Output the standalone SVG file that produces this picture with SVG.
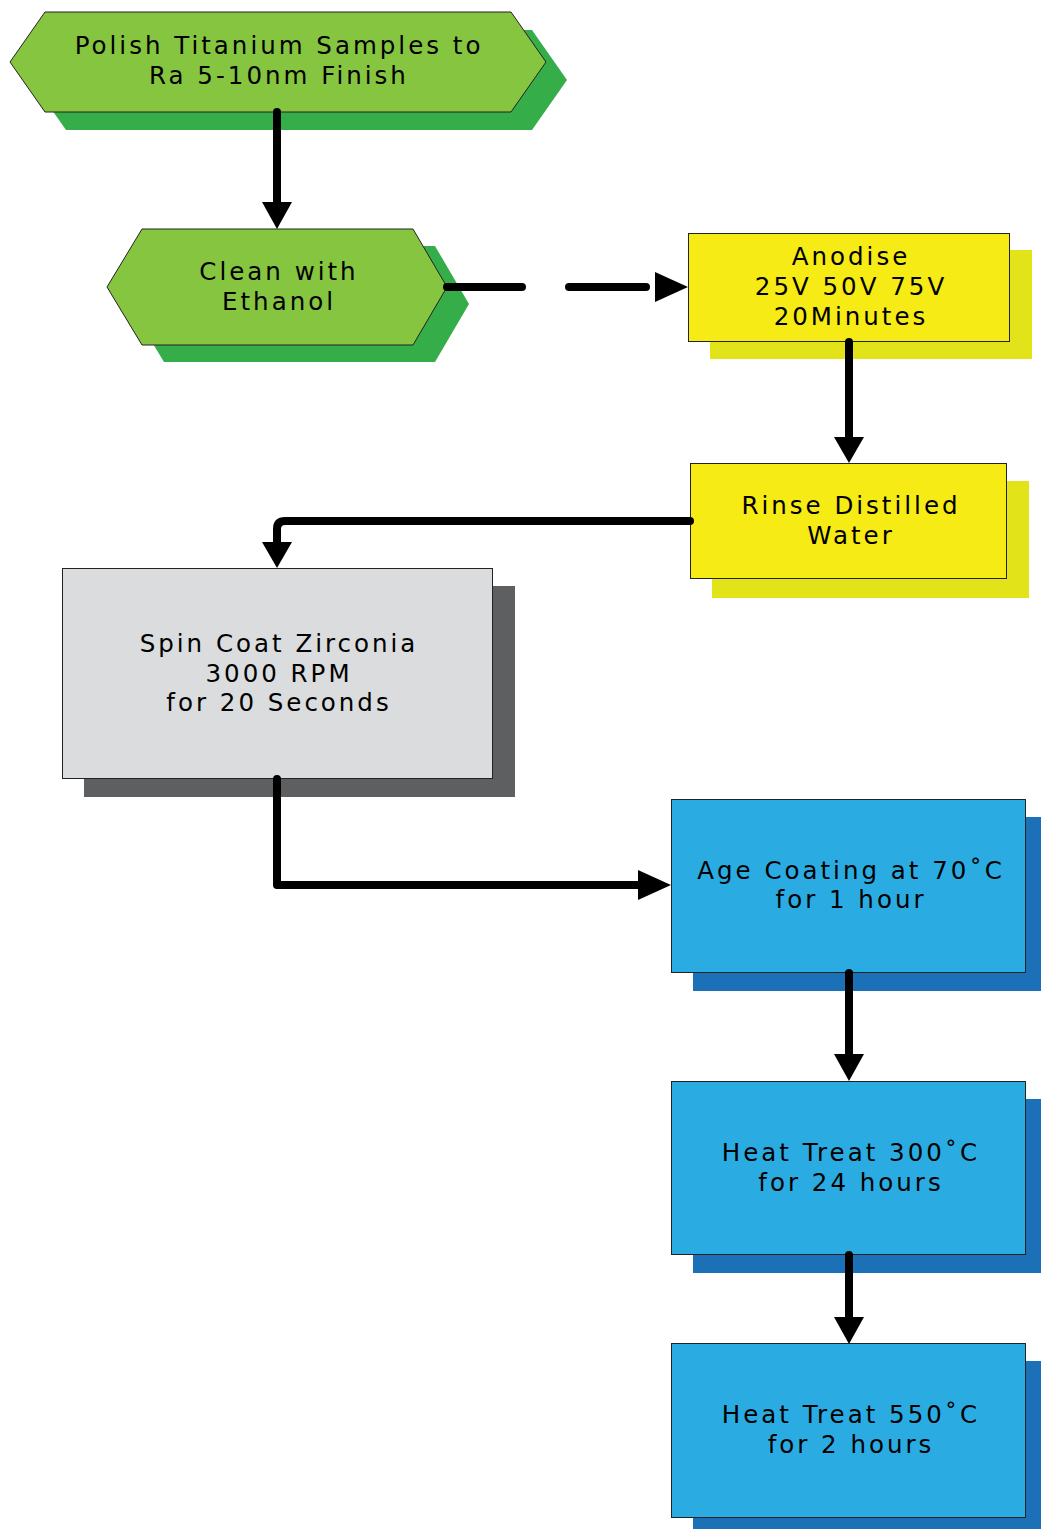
<svg xmlns="http://www.w3.org/2000/svg" width="1041" height="1529" viewBox="0 0 1041 1529">
  <style>
    .lbl { font-family: "DejaVu Sans", Verdana, sans-serif; font-size: 24.5px; letter-spacing: 3px; fill: #000; text-anchor: middle; }
    .edge { stroke: #000; stroke-width: 8; fill: none; stroke-linecap: round; stroke-linejoin: round; }
    .head { fill: #000; }
    .outline { stroke: #222; stroke-width: 1; }
    .green { fill: #86c540; }
    .green-sh { fill: #35ae4a; }
    .yellow { fill: #f6eb14; }
    .yellow-sh { fill: #e3e319; }
    .grey { fill: #dbdcde; }
    .grey-sh { fill: #5e5f61; }
    .blue { fill: #2aace3; }
    .blue-sh { fill: #1c70b7; }
  </style>

  <rect width="1041" height="1529" fill="#fff"/>

  <!-- Nodes -->
  <g id="polish">
    <polygon class="green-sh" points="66,30 532,30 567,80 532,130 66,130 31,80"/>
    <polygon class="green outline" points="45,12 511,12 546,62 511,112 45,112 10,62"/>
    <text class="lbl" x="279" y="54">Polish Titanium Samples to</text>
    <text class="lbl" x="279" y="84">Ra 5-10nm Finish</text>
  </g>

  <g id="clean">
    <polygon class="green-sh" points="164,246 435,246 469,304 435,362 164,362 129,304"/>
    <polygon class="green outline" points="142,229 413,229 447,287 413,345 142,345 107,287"/>
    <text class="lbl" x="279" y="280">Clean with</text>
    <text class="lbl" x="279" y="310">Ethanol</text>
  </g>

  <g id="anodise">
    <rect class="yellow-sh" x="710" y="250" width="322" height="109"/>
    <rect class="yellow outline" x="688.5" y="233.5" width="321" height="108"/>
    <text class="lbl" x="851" y="265">Anodise</text>
    <text class="lbl" x="851" y="295">25V 50V 75V</text>
    <text class="lbl" x="851" y="325">20Minutes</text>
  </g>

  <g id="rinse">
    <rect class="yellow-sh" x="712" y="481" width="317" height="117"/>
    <rect class="yellow outline" x="690.5" y="463.5" width="316" height="115"/>
    <text class="lbl" x="851" y="514">Rinse Distilled</text>
    <text class="lbl" x="851" y="544">Water</text>
  </g>

  <g id="spin">
    <rect class="grey-sh" x="84" y="586" width="431" height="211"/>
    <rect class="grey outline" x="62.5" y="568.5" width="430" height="210"/>
    <text class="lbl" x="279" y="652">Spin Coat Zirconia</text>
    <text class="lbl" x="279" y="682">3000 RPM</text>
    <text class="lbl" x="279" y="711">for 20 Seconds</text>
  </g>

  <g id="age">
    <rect class="blue-sh" x="693" y="817" width="355" height="174"/>
    <rect class="blue outline" x="671.5" y="799.5" width="354" height="173"/>
    <text class="lbl" x="851" y="879">Age Coating at 70˚C</text>
    <text class="lbl" x="851" y="908">for 1 hour</text>
  </g>

  <g id="heat300">
    <rect class="blue-sh" x="693" y="1099" width="355" height="174"/>
    <rect class="blue outline" x="671.5" y="1081.5" width="354" height="173"/>
    <text class="lbl" x="851" y="1161">Heat Treat 300˚C</text>
    <text class="lbl" x="851" y="1191">for 24 hours</text>
  </g>

  <g id="heat550">
    <rect class="blue-sh" x="693" y="1361" width="355" height="174"/>
    <rect class="blue outline" x="671.5" y="1343.5" width="354" height="174"/>
    <text class="lbl" x="851" y="1423">Heat Treat 550˚C</text>
    <text class="lbl" x="851" y="1453">for 2 hours</text>
  </g>

  <!-- Connectors -->
  <g id="connectors">
    <path class="edge" d="M277,112 V204"/>
    <polygon class="head" points="262,202 292,202 277,229"/>

    <path class="edge" d="M447,287 H522 M569,287 H646"/>
    <polygon class="head" points="655,272 688,287 655,302"/>

    <path class="edge" d="M849,342 V439"/>
    <polygon class="head" points="834,437 864,437 849,463"/>

    <path class="edge" d="M690,521 H285 Q277,521 277,529 V544"/>
    <polygon class="head" points="262,542 292,542 277,568"/>

    <path class="edge" d="M277,779 V885 H640"/>
    <polygon class="head" points="638,870 671,885 638,900"/>

    <path class="edge" d="M849,973 V1056"/>
    <polygon class="head" points="834,1054 864,1054 849,1081"/>

    <path class="edge" d="M849,1255 V1319"/>
    <polygon class="head" points="834,1317 864,1317 849,1344"/>
  </g>
</svg>
